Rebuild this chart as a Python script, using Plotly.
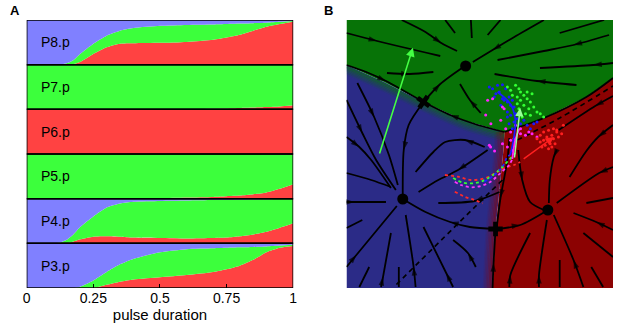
import plotly.graph_objects as go

W, H = 617, 328

# ---------------- Panel A data ----------------
pulse = [0, 0.1, 0.125, 0.15, 0.175, 0.2, 0.25, 0.3, 0.35, 0.4, 0.5, 0.6, 0.7, 0.75, 0.8, 0.85, 0.9, 0.95, 1.0]
cells = ["P3.p", "P4.p", "P5.p", "P6.p", "P7.p", "P8.p"]
tick_vals = [0, 0.25, 0.5, 0.75, 1]
tick_text = ["0", "0.25", "0.5", "0.75", "1"]

p3_red = [0, 0, 0, 0, 0, 0, 0, 0.07, 0.14, 0.19, 0.24, 0.29, 0.36, 0.42, 0.5, 0.63, 0.8, 0.9, 0.94]
p3_nonblue = [0, 0, 0, 0, 0, 0.03, 0.17, 0.36, 0.53, 0.65, 0.8, 0.87, 0.89, 0.9, 0.91, 0.92, 0.93, 0.95, 0.97]
p4_red = [0, 0, 0, 0, 0.04, 0.09, 0.15, 0.16, 0.15, 0.13, 0.12, 0.11, 0.12, 0.13, 0.16, 0.2, 0.26, 0.35, 0.45]
p4_nonblue = [0, 0, 0.02, 0.08, 0.2, 0.36, 0.6, 0.8, 0.89, 0.93, 0.95, 0.96, 0.97, 0.97, 0.975, 0.98, 0.985, 0.99, 0.99]
p5_red = [0, 0, 0, 0, 0, 0, 0, 0, 0, 0, 0.01, 0.025, 0.04, 0.055, 0.07, 0.1, 0.14, 0.22, 0.32]
p5_nonblue = [1, 1, 1, 1, 1, 1, 1, 1, 1, 1, 1, 1, 1, 1, 1, 1, 0.995, 0.99, 0.985]
p6_red = [1] * 19
p6_nonblue = [1] * 19
p7_red = [0, 0, 0, 0, 0, 0, 0, 0, 0, 0, 0, 0.005, 0.015, 0.02, 0.03, 0.04, 0.05, 0.065, 0.09]
p7_nonblue = [1] * 19
p8_red = [0, 0, 0, 0, 0.01, 0.06, 0.24, 0.39, 0.47, 0.48, 0.49, 0.51, 0.56, 0.61, 0.67, 0.76, 0.85, 0.91, 0.96]
p8_nonblue = [0, 0, 0, 0.03, 0.1, 0.24, 0.47, 0.65, 0.76, 0.82, 0.87, 0.89, 0.9, 0.91, 0.92, 0.93, 0.94, 0.96, 0.98]

strip_red = [p3_red, p4_red, p5_red, p6_red, p7_red, p8_red]
strip_nonblue = [p3_nonblue, p4_nonblue, p5_nonblue, p6_nonblue, p7_nonblue, p8_nonblue]

A_BLUE, A_GREEN, A_RED = "#8080ff", "#3cff3c", "#ff4242"

# ---------------- Panel B data (panel pixel units, y downward) ----------------
B_W, B_H = 270, 268
gb_x = [0, 38, 78, 118, 160]; gb_y = [45, 62, 82, 100, 112]          # green / blue border
gr_x = [160, 200, 243, 270]; gr_y = [112, 98, 77, 58]                # green / red border
br_x = [160, 159, 155, 151, 148]; br_y = [112, 130, 170, 210, 268]   # blue / red border

attr_x = [120.7, 57, 204]; attr_y = [46, 179, 190]
saddle_x = [78, 151]; saddle_y = [82, 209]; saddle_angle = [35, 0]

# streamlines: (x list, y list, arrow index or None), ordered along the flow
streams = [
    ([0, 31, 95], [13, 21, 36], 1),
    ([56, 80, 96, 112], [0, 12, 23, 31], 2),
    ([100, 110], [0, 13], None),
    ([126, 127], [0, 18], None),
    ([156, 143], [0, 15], None),
    ([200, 170, 148, 128], [0, 17, 30, 42], 2),
    ([261, 216], [0, 13], None),
    ([266, 230, 200, 153], [15, 25, 31, 40], 1),
    ([270, 250, 196], [43, 45, 48], 1),
    ([233, 193, 150], [65, 61, 54], 1),
    ([136, 125, 115], [93, 80, 64], 1),
    ([41, 64, 88], [53, 54, 52], 1),
    ([0, 20, 40, 78], [45, 52, 61, 82], 2),
    ([160, 130, 105, 78], [112, 104, 95, 82], 2),
    ([78, 95, 120], [82, 64, 46], 1),
    ([78, 63, 58, 57], [82, 105, 130, 179], 2),
    ([165, 163, 156, 152], [118, 140, 178, 209], 2),
    ([148, 149, 151], [268, 243, 209], 1),
    ([151, 176, 204], [209, 205, 190], 1),
    ([151, 125, 105, 80, 57], [209, 207, 202, 192, 179], 2),
    ([160, 200, 243, 270], [112, 98, 77, 58], None),
    ([11, 28, 43, 52], [63, 97, 135, 165], 1),
    ([0, 16, 30, 50], [80, 113, 140, 170], 1),
    ([0, 13, 25, 45], [117, 127, 140, 168], 1),
    ([0, 25, 45], [153, 160, 167], None),
    ([0, 8, 40], [182, 182, 182], 1),
    ([0, 16], [208, 200], None),
    ([0, 10, 51], [247, 235, 186], 1),
    ([13, 23], [267, 247], None),
    ([35, 37, 45], [267, 257, 213], 1),
    ([53, 53], [267, 247], None),
    ([70, 68, 60], [267, 247, 195], 1),
    ([108, 101, 78], [267, 253, 207], 1),
    ([131, 123, 108], [247, 233, 220], 1),
    ([143, 113, 93, 73], [130, 150, 160, 172], 1),
    ([140, 120, 100, 88, 70], [127, 120, 122, 132, 152], 1),
    ([155, 130, 93], [172, 181, 183], 1),
    ([174, 178, 186, 200], [130, 160, 182, 190], 1),
    ([213, 210, 206, 205], [130, 137, 160, 183], 1),
    ([270, 255, 243, 226], [105, 117, 131, 157], 1),
    ([270, 256, 213], [147, 153, 183], 1),
    ([270, 243], [178, 183], None),
    ([270, 253, 230], [210, 202, 193], 1),
    ([270, 240], [237, 213], None),
    ([260, 248], [267, 247], None),
    ([240, 230, 210], [267, 240, 195], 1),
    ([216, 216], [267, 240], None),
    ([195, 195, 203], [267, 255, 200], 1),
    ([165, 166, 186], [267, 255, 213], 1),
    ([270, 252, 215], [76, 86, 110], 1),
]
dashed_black = [
    ([158, 130, 48], [160, 187, 267]),
    ([173, 216, 270], [120, 98, 66]),
]

blue_dots_x = [144.7, 148, 153, 158, 151.3, 154.7, 161.3, 164.7, 159.7, 163, 168, 166.3, 169.7, 163, 166.3, 171.3, 173, 169.7, 164.7, 176.3, 179.7, 183, 189.7, 193, 186.3, 168, 163, 158, 149.7, 156.3]
blue_dots_y = [67, 68.7, 65.3, 64.7, 73.7, 72, 68.7, 77, 80.3, 82, 80.3, 85.3, 87, 92, 95.3, 93.7, 98.7, 102, 103.7, 103.7, 100.3, 105.3, 103.7, 102, 108.7, 108.7, 97, 78.7, 77, 85.3]
green_dots_x = [163, 166.3, 171.3, 174.7, 176.3, 179.7, 183, 173, 176.3, 186.3, 179.7, 184.7, 189.7, 174.7, 181.3, 186.3, 193, 196.3, 199.7, 178, 173, 168, 188, 183]
green_dots_y = [67, 70.3, 65.3, 68.7, 72, 75.3, 78.7, 77, 80.3, 82, 85.3, 88.7, 87, 88.7, 93.7, 95.3, 92, 93.7, 97, 97, 83.7, 75.3, 73.7, 72]
mag_dots_x = [143, 148, 158, 159.7, 146.3, 156.3, 161.3, 166.3, 171.3, 176.3, 176.3, 181.3, 184.7, 188, 193, 169.7, 166.3, 158, 144.7, 163, 168, 141, 146, 150]
mag_dots_y = [80.3, 78.7, 87, 88.7, 103.7, 100.3, 108.7, 112, 105.3, 108.7, 113.7, 115.3, 112, 113.7, 117, 118.7, 120.3, 123.7, 125.3, 127, 130.3, 95, 127, 131]
red_dots_x = [196.3, 199.7, 204.7, 209.7, 213, 208, 203, 199.7, 204.7, 209.7, 206.3, 201.3, 196.3, 193, 211.3, 214.7, 218, 219.7, 208, 198, 204.7, 213]
red_dots_y = [115.3, 112, 110.3, 108.7, 112, 115.3, 117, 120.3, 120.3, 118.7, 123.7, 125.3, 122, 118.7, 123.7, 117, 113.7, 105.3, 127, 127, 128.7, 110]

blue_traj_x = [153, 166, 171, 170, 166]; blue_traj_y = [72, 84, 99, 115, 135]
mag_traj_x = [175, 171, 168]; mag_traj_y = [109, 120, 139]
red_dash1_x = [99.7, 113, 126, 139.7, 151, 159.7, 169.7, 176]; red_dash1_y = [155, 156.7, 160, 158.3, 153, 148, 145, 142]
green_dash_x = [108, 118, 128, 136, 146, 154.7, 163, 171]; green_dash_y = [158, 162.7, 163.3, 161.7, 156.7, 150, 141.7, 133]
mag_dash_x = [109.7, 116, 126, 136, 146, 156, 164.7, 168]; mag_dash_y = [161.7, 165, 167.3, 166, 161.7, 153, 145, 139]
blue_dash_x = [139.7, 149.7, 158, 163, 166]; blue_dash_y = [161.7, 155, 146.7, 136.7, 135]
red_dash2_x = [109.7, 119.7, 129.7, 138]; red_dash2_y = [171.7, 176.7, 180, 183.3]

big_arrow = (33, 135, 67.3, 27.7)      # tail x, tail y, tip x, tip y
lg_arrow = (170, 139, 176, 88)
red_arrow = (178, 140, 210, 117)

B_GREEN, B_BLUE, B_RED = "#077307", "#2b2b87", "#8c0202"

# ---------------- layout geometry ----------------
ax_l, ax_r = 23 / W, 293 / W
bx_l, bx_r = 347 / W, 617 / W
y_b, y_t = 1 - 288 / H, 1 - 20 / H
FONT = "Liberation Sans, Arial, Helvetica"

fig = go.Figure()

# ---- Panel A stacked areas
for k in range(6):
    base = [k] * len(pulse)
    top = [k + 1] * len(pulse)
    red_top = [k + v for v in strip_red[k]]
    nb_top = [k + v for v in strip_nonblue[k]]
    ln = dict(width=0, shape="spline", smoothing=0.6)
    fig.add_trace(go.Scatter(x=pulse, y=base, mode="lines", line=dict(width=0), showlegend=False, hoverinfo="skip"))
    fig.add_trace(go.Scatter(x=pulse, y=red_top, mode="lines", line=ln, fill="tonexty", fillcolor=A_RED, showlegend=False, hoverinfo="skip"))
    fig.add_trace(go.Scatter(x=pulse, y=nb_top, mode="lines", line=ln, fill="tonexty", fillcolor=A_GREEN, showlegend=False, hoverinfo="skip"))
    fig.add_trace(go.Scatter(x=pulse, y=top, mode="lines", line=dict(width=0), fill="tonexty", fillcolor=A_BLUE, showlegend=False, hoverinfo="skip"))
    fig.add_shape(type="rect", xref="x", yref="y", x0=0, x1=1, y0=k, y1=k + 1,
                  line=dict(color="black", width=1.5), layer="above")
    fig.add_annotation(x=0.045, y=k + 0.5, xref="x", yref="y", text=cells[k], showarrow=False,
                       xanchor="left", yanchor="middle", font=dict(size=14, color="black", family=FONT))

# ---- Panel B background regions
def poly(xs, ys, color):
    fig.add_trace(go.Scatter(x=xs, y=ys, xaxis="x2", yaxis="y2", mode="lines", fill="toself",
                             fillcolor=color, line=dict(width=0, color=color), showlegend=False, hoverinfo="skip"))

poly([0, B_W, B_W] + gr_x[::-1][1:] + gb_x[::-1][1:], [0, 0, gr_y[-1]] + gr_y[::-1][1:] + gb_y[::-1][1:], B_GREEN)
poly(gb_x + br_x[1:] + [0], gb_y + br_y[1:] + [B_H], B_BLUE)
poly(gr_x + [B_W] + br_x[::-1], gr_y + [B_H] + br_y[::-1], B_RED)

# soft transitions along the region borders
for i, op in enumerate([0.5, 0.4, 0.3, 0.22, 0.15, 0.08]):
    dy = 1.5 + 1.5 * i
    fig.add_trace(go.Scatter(x=gb_x, y=[v + dy for v in gb_y], xaxis="x2", yaxis="y2", mode="lines",
                             line=dict(color=B_GREEN, width=2, shape="spline"), opacity=op,
                             showlegend=False, hoverinfo="skip"))
    fig.add_trace(go.Scatter(x=[v - dy for v in br_x], y=br_y, xaxis="x2", yaxis="y2", mode="lines",
                             line=dict(color=B_RED, width=2, shape="spline"), opacity=op,
                             showlegend=False, hoverinfo="skip"))

# ---- streamlines
for xs, ys, ai in streams:
    sizes = [0] * len(xs)
    if ai is not None:
        sizes[ai] = 9
    fig.add_trace(go.Scatter(x=xs, y=ys, xaxis="x2", yaxis="y2", mode="lines+markers",
                             line=dict(color="black", width=1.8, shape="spline", smoothing=0.8),
                             marker=dict(symbol="arrow", size=sizes, color="black", angleref="previous", line=dict(width=0)),
                             showlegend=False, hoverinfo="skip"))
for xs, ys in dashed_black:
    fig.add_trace(go.Scatter(x=xs, y=ys, xaxis="x2", yaxis="y2", mode="lines",
                             line=dict(color="black", width=1.7, dash="5px,4px", shape="spline"),
                             showlegend=False, hoverinfo="skip"))

# ---- colored dashed trajectories
for xs, ys, c in [(red_dash1_x, red_dash1_y, "#ff2a2a"), (green_dash_x, green_dash_y, "#33ff33"),
                  (mag_dash_x, mag_dash_y, "#ff33ff"), (blue_dash_x, blue_dash_y, "#2020ff"),
                  (red_dash2_x, red_dash2_y, "#ff2a2a")]:
    fig.add_trace(go.Scatter(x=xs, y=ys, xaxis="x2", yaxis="y2", mode="lines",
                             line=dict(color=c, width=1.8, dash="3px,3px", shape="spline"),
                             showlegend=False, hoverinfo="skip"))

# ---- dots
for xs, ys, c in [(blue_dots_x, blue_dots_y, "#1a1aff"), (mag_dots_x, mag_dots_y, "#ff22ff"),
                  (green_dots_x, green_dots_y, "#33ff33"), (red_dots_x, red_dots_y, "#ff2020")]:
    fig.add_trace(go.Scatter(x=xs, y=ys, xaxis="x2", yaxis="y2", mode="markers",
                             marker=dict(size=3, color=c), showlegend=False, hoverinfo="skip"))

for xs, ys, c in [(blue_traj_x, blue_traj_y, "#1a1aff"), (mag_traj_x, mag_traj_y, "#ff22ff")]:
    fig.add_trace(go.Scatter(x=xs, y=ys, xaxis="x2", yaxis="y2", mode="lines",
                             line=dict(color=c, width=1.8, shape="spline"), showlegend=False, hoverinfo="skip"))

# ---- fixed points
fig.add_trace(go.Scatter(x=attr_x, y=attr_y, xaxis="x2", yaxis="y2", mode="markers",
                         marker=dict(size=11, color="black"), showlegend=False, hoverinfo="skip"))
fig.add_trace(go.Scatter(x=saddle_x, y=saddle_y, xaxis="x2", yaxis="y2", mode="markers",
                         marker=dict(size=12, color="black", symbol="cross", angle=saddle_angle),
                         showlegend=False, hoverinfo="skip"))

# ---- arrows
for (tx, ty, hx, hy), c, w in [(big_arrow, "#44ff44", 1.6), (lg_arrow, "#99ff99", 1.5), (red_arrow, "#ff2020", 1.5)]:
    fig.add_annotation(x=hx, y=hy, ax=tx, ay=ty, xref="x2", yref="y2", axref="x2", ayref="y2",
                       showarrow=True, arrowhead=2, arrowsize=1.1, arrowwidth=w, arrowcolor=c, text="")

# ---- panel letters
fig.add_annotation(x=4 / W, y=1 - 10 / H, xref="paper", yref="paper", text="<b>A</b>", showarrow=False,
                   xanchor="left", yanchor="middle", font=dict(size=13, color="black", family=FONT))
fig.add_annotation(x=322 / W, y=1 - 10 / H, xref="paper", yref="paper", text="<b>B</b>", showarrow=False,
                   xanchor="left", yanchor="middle", font=dict(size=13, color="black", family=FONT))

fig.update_layout(
    width=W, height=H, margin=dict(l=0, r=0, t=0, b=0),
    paper_bgcolor="white", plot_bgcolor="rgba(0,0,0,0)",
    font=dict(family=FONT, size=14, color="black"),
    xaxis=dict(domain=[ax_l, ax_r], range=[0, 1], tickvals=tick_vals, ticktext=tick_text,
               ticks="inside", ticklen=4, tickwidth=1, tickcolor="black", showgrid=False, zeroline=False,
               showline=False, tickfont=dict(size=14),
               title=dict(text="pulse duration", font=dict(size=15), standoff=0)),
    yaxis=dict(domain=[y_b, y_t], range=[0, 6], showticklabels=False, ticks="", showgrid=False, zeroline=False),
    xaxis2=dict(domain=[bx_l, bx_r], range=[0, B_W], visible=False, anchor="y2"),
    yaxis2=dict(domain=[y_b, y_t], range=[B_H, 0], visible=False, anchor="x2"),
)

fig.write_html("out.html", config={"displayModeBar": False, "staticPlot": True},
               post_script="document.body.style.margin='0';document.body.style.overflow='hidden';")
